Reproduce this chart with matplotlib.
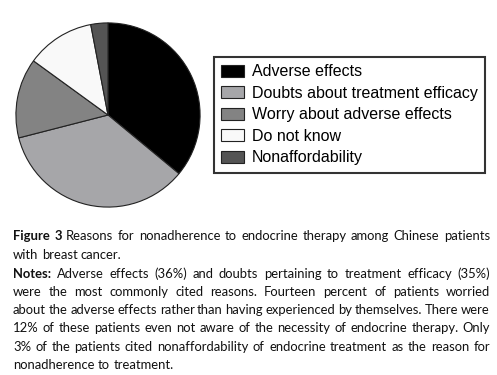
import matplotlib
matplotlib.use("Agg")
import matplotlib.pyplot as plt

# data
labels = ["Adverse effects", "Doubts about treatment efficacy",
          "Worry about adverse effects", "Do not know", "Nonaffordability"]
values = [36, 35, 14, 12, 3]
colors = ["#000000", "#a6a6a9", "#838383", "#f9f9f9", "#545454"]

caption_lines = [
    ("**Figure 3** Reasons for nonadherence to endocrine therapy among Chinese patients", True),
    ("with breast cancer.", False),
    ("**Notes:** Adverse effects (36%) and doubts pertaining to treatment efficacy (35%)", True),
    ("were the most commonly cited reasons. Fourteen percent of patients worried", True),
    ("about the adverse effects rather than having experienced by themselves. There were", True),
    ("12% of these patients even not aware of the necessity of endocrine therapy. Only", True),
    ("3% of the patients cited nonaffordability of endocrine treatment as the reason for", True),
    ("nonadherence to treatment.", False),
]

W, H = 497, 375
fig = plt.figure(figsize=(W / 100, H / 100), dpi=100)

# pie
cx, cy, r = 108, 115, 93
ax = fig.add_axes([(cx - r) / W, 1 - (cy + r) / H, 2 * r / W, 2 * r / H])
wedges, _ = ax.pie(values, colors=colors, startangle=90, counterclock=False,
                   wedgeprops=dict(edgecolor="#222222", linewidth=0.8))
ax.set_xlim(-1.01, 1.01)
ax.set_ylim(-1.01, 1.01)
ax.set_aspect("auto")
ax.axis("off")

leg = fig.legend(wedges, labels, loc="upper left",
                 bbox_to_anchor=(214 / W, 1 - 57 / H),
                 prop={"family": "Liberation Sans", "size": 11.5},
                 frameon=True, fancybox=False, edgecolor="black",
                 handlelength=1.4, handleheight=0.8, handletextpad=0.5,
                 labelspacing=0.41, borderpad=0.45, borderaxespad=0)
leg.get_frame().set_linewidth(1.5)
for h in leg.legend_handles:
    h.set_edgecolor("#222222")
    h.set_linewidth(0.8)

# caption, justified
x0, x1 = 13, 490
line_y = [236, 255, 274, 292, 310, 328, 347, 365]
font = dict(family="Lato", size=9.4, color="#111111")
renderer = fig.canvas.get_renderer()

sp = fig.text(0, 0, "a a", **font)
sp2 = fig.text(0, 0, "aa", **font)
space = sp.get_window_extent(renderer).width - sp2.get_window_extent(renderer).width
sp.remove()
sp2.remove()

for (line, justify), y in zip(caption_lines, line_y):
    words = []
    bold = False
    for w in line.split(" "):
        if w.startswith("**"):
            bold = True
            w = w[2:]
        b = bold
        if w.endswith("**"):
            w = w[:-2]
            bold = False
        words.append((w, b))
    texts = []
    for w, b in words:
        t = fig.text(0, 0, w, va="baseline", ha="left",
                     fontweight="bold" if b else "normal", **font)
        texts.append(t)
    widths = [t.get_window_extent(renderer).width for t in texts]
    if justify and len(texts) > 1:
        gap = (x1 - x0 - sum(widths)) / (len(texts) - 1)
    else:
        gap = space
    x = x0
    for t, wd in zip(texts, widths):
        t.set_x(x / W)
        t.set_y(1 - (y + 4) / H)
        x += wd + gap

fig.savefig("out.png", dpi=100)
